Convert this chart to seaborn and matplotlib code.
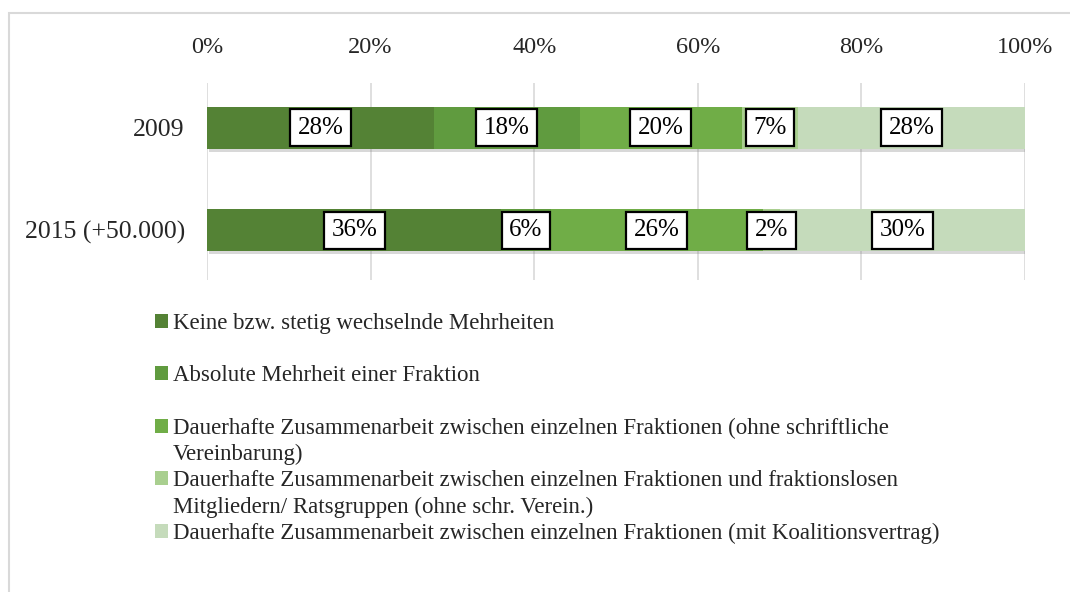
import matplotlib
matplotlib.use("Agg")
import matplotlib.pyplot as plt
import matplotlib.patheffects as pe
from matplotlib.patches import Patch, Rectangle
import numpy as np
import pandas as pd
import seaborn as sns

# ---------------- data ----------------
categories = ["2009", "2015 (+50.000)"]
series_labels = [
    "Keine bzw. stetig wechselnde Mehrheiten",
    "Absolute Mehrheit einer Fraktion",
    "Dauerhafte Zusammenarbeit zwischen einzelnen Fraktionen (ohne schriftliche\nVereinbarung)",
    "Dauerhafte Zusammenarbeit zwischen einzelnen Fraktionen und fraktionslosen\nMitgliedern/ Ratsgruppen (ohne schr. Verein.)",
    "Dauerhafte Zusammenarbeit zwischen einzelnen Fraktionen (mit Koalitionsvertrag)",
]
keine = [28, 36]
absolute = [18, 6]
ohne_vereinbarung = [20, 26]
fraktionslose = [7, 2]
koalition = [28, 30]
xtick_values = [0, 20, 40, 60, 80, 100]
xtick_labels = ["0%", "20%", "40%", "60%", "80%", "100%"]

colors = ["#548235", "#609b3f", "#70ad47", "#a9cf8f", "#c5dbbb"]

# ---------------- style ----------------
sns.set_theme(style="white")
plt.rcParams["font.family"] = ["Liberation Serif", "DejaVu Serif"]
FS_TICK = 17.5
FS_CAT = 18.5
FS_LAB = 18
FS_LEG = 16.5

fig = plt.figure(figsize=(10.7, 5.92), dpi=100)
W, H = 1070, 592
ax = fig.add_axes([207 / W, 1 - 280 / H, (1025 - 207) / W, (280 - 83) / H])

values = np.array([keine, absolute, ohne_vereinbarung, fraktionslose, koalition], dtype=float)
shares = values / values.sum(axis=0) * 100
cum = shares.cumsum(axis=0)

bar_h = 0.41
for i in range(len(series_labels) - 1, -1, -1):
    df = pd.DataFrame({"Jahr": categories, "Anteil": cum[i]})
    n_before = len(ax.patches)
    sns.barplot(data=df, x="Anteil", y="Jahr", orient="h", color=colors[i],
                saturation=1, width=bar_h, linewidth=0, ax=ax, zorder=2)
    if i == len(series_labels) - 1:
        for p in ax.patches[n_before:]:
            p.set_path_effects([pe.SimplePatchShadow(offset=(1.5, -2.5), shadow_rgbFace="#7f7f7f", alpha=0.3),
                                pe.Normal()])

# value labels
for i in range(len(series_labels)):
    start = cum[i] - shares[i]
    for j, cat in enumerate(categories):
        ax.text(start[j] + shares[i][j] / 2, j,
                f"{values[i][j]:.0f}%", ha="center", va="center", fontsize=FS_LAB, color="black", zorder=5,
                bbox=dict(boxstyle="square,pad=0.3", fc="white", ec="black", lw=1.6))

ax.set_xlim(0, 100)
ax.set_ylim(1.49, -0.441)
ax.xaxis.tick_top()
ax.set_xticks(xtick_values)
ax.set_xticklabels(xtick_labels, fontsize=FS_TICK)
ax.tick_params(axis="x", length=0, pad=18, labelcolor="#262626")
ax.tick_params(axis="y", length=0, pad=16, labelsize=FS_CAT, labelcolor="#262626")
ax.set_xlabel("")
ax.set_ylabel("")
ax.grid(axis="x", color="#d9d9d9", linewidth=1.2, zorder=0)
ax.grid(axis="y", visible=False)
ax.set_axisbelow(True)
for s in ax.spines.values():
    s.set_visible(False)

# legend: rows, continuation lines carry an invisible handle
rows = []
for k, lab in enumerate(series_labels):
    parts = lab.split("\n")
    rows.append((Patch(facecolor=colors[k], edgecolor="none"), parts[0]))
    for extra in parts[1:]:
        rows.append((Patch(facecolor="none", edgecolor="none"), extra))
    if len(parts) == 1 and k < 2:
        rows.append((Patch(facecolor="none", edgecolor="none"), " "))
handles = [r[0] for r in rows]
labels = [r[1] for r in rows]
fig.legend(handles, labels, loc="upper left", bbox_to_anchor=(155 / W, 1 - 313 / H),
           frameon=False, fontsize=FS_LEG, handlelength=0.57, handleheight=0.57,
           handletextpad=0.22, labelspacing=0.225, borderpad=0, borderaxespad=0,
           labelcolor="#262626")

# outer chart border
fig.add_artist(Rectangle((9 / W, -0.1), 1.2, (1 - 13 / H) + 0.1, transform=fig.transFigure,
                         fill=False, edgecolor="#d9d9d9", linewidth=1.5))

fig.savefig("out.png", dpi=100)
